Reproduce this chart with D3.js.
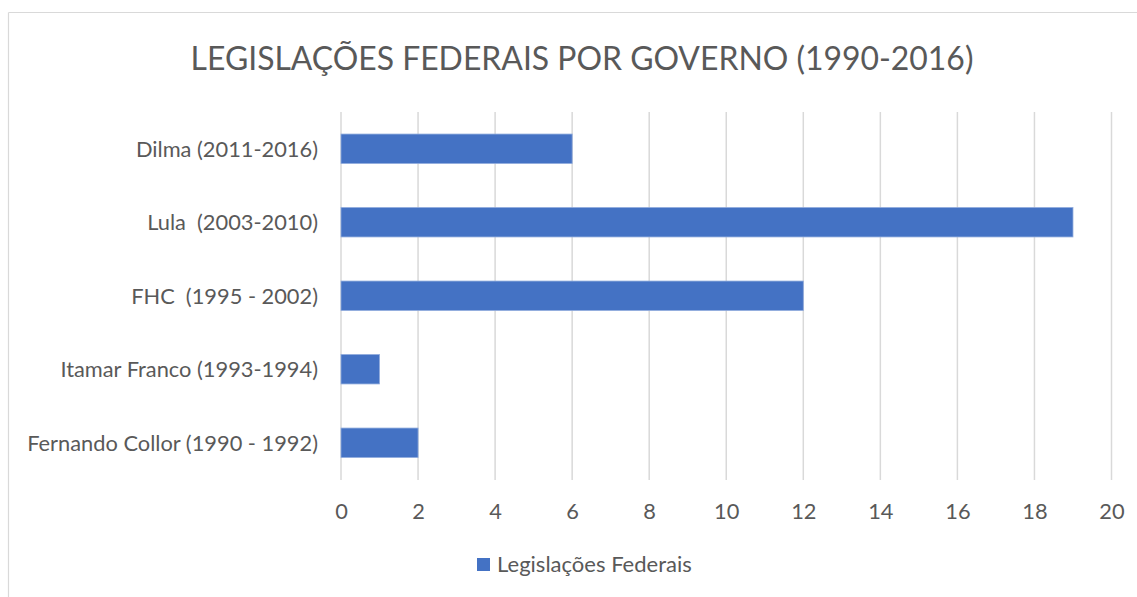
<!DOCTYPE html>
<html><head><meta charset="utf-8">
<script src="https://cdn.jsdelivr.net/npm/d3@7"></script>
<style>body{margin:0;background:#fff;}svg{display:block;}text{font-family:Lato,"Open Sans",sans-serif;fill:#595959;}</style>
</head><body>
<svg id="c" width="1137" height="597"></svg>
<script>
const categories = ["Fernando Collor (1990 - 1992)","Itamar Franco (1993-1994)","FHC  (1995 - 2002)","Lula  (2003-2010)","Dilma (2011-2016)"];
const values = [2, 1, 12, 19, 6];
const ticks = [0,2,4,6,8,10,12,14,16,18,20];
const seriesName = "Legislações Federais";
const titleText = "LEGISLAÇÕES FEDERAIS POR GOVERNO (1990-2016)";

const svg = d3.select("#c");
function fit(sel, target){
  const n = sel.node(); let fs = parseFloat(sel.attr("font-size"));
  const w = n.getComputedTextLength(); sel.attr("font-size", fs*target/w);
}
// frame
svg.append("line").attr("x1",8.5).attr("x2",1137).attr("y1",12.5).attr("y2",12.5).attr("stroke","#d9d9d9").attr("stroke-width",1.2);
svg.append("line").attr("x1",8.5).attr("x2",8.5).attr("y1",12.5).attr("y2",597).attr("stroke","#d9d9d9").attr("stroke-width",1.2);

const x = d3.scaleLinear().domain([0,20]).range([341,1111.5]);
const y = d3.scaleBand().domain(categories.slice().reverse()).range([112,479.5]).paddingInner(0.6).paddingOuter(0.3);

// title
const t = svg.append("text").attr("x",582).attr("y",70).attr("text-anchor","middle").attr("font-size",30).attr("fill","#5f5f5f").text(titleText);
t.style("white-space","pre"); fit(t, 783);

// grid
svg.selectAll(".gl").data(ticks).join("line").attr("class","gl")
  .attr("x1",d=>x(d)).attr("x2",d=>x(d)).attr("y1",112).attr("y2",480)
  .attr("stroke","#d9d9d9").attr("stroke-width",1.5);

// bars
svg.selectAll(".bar").data(categories).join("rect").attr("class","bar")
  .attr("x",x(0)).attr("y",d=>y(d)).attr("height",y.bandwidth())
  .attr("width",(d,i)=>x(values[i])-x(0))
  .attr("fill","#4472C4").attr("stroke","#8faadc").attr("stroke-width",0.8);

// x axis labels
const xa = svg.append("g").attr("transform","translate(0,500)")
  .call(d3.axisBottom(x).tickValues(ticks).tickSize(0).tickPadding(0));
xa.select(".domain").remove();
xa.selectAll("text").attr("font-family","Lato").attr("fill","#595959").attr("font-size",19).attr("dy",0).attr("y",19);

// y axis labels
const ya = svg.append("g").attr("transform","translate(318,0)")
  .call(d3.axisLeft(y).tickSize(0).tickPadding(0));
ya.select(".domain").remove();
const yl = ya.selectAll("text").attr("font-family","Lato").attr("fill","#595959").attr("font-size",19).attr("dy","0.36em").style("white-space","pre");
let maxW=0; yl.each(function(){maxW=Math.max(maxW,this.getComputedTextLength());});
const fsY = 19*291/maxW; yl.attr("font-size",fsY);
xa.selectAll("text").attr("font-size",fsY);

// legend
svg.append("rect").attr("x",477).attr("y",558).attr("width",13).attr("height",13).attr("fill","#4472C4");
const lt = svg.append("text").attr("x",497).attr("y",571.5).attr("font-size",19).text(seriesName);
fit(lt,195);
</script>
</body></html>
